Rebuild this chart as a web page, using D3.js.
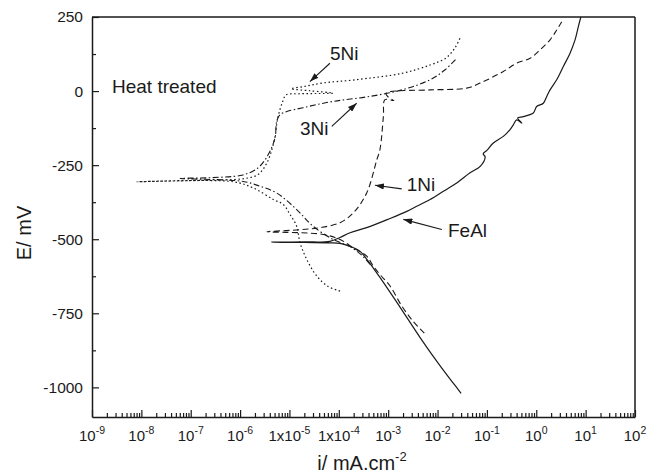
<!DOCTYPE html>
<html>
<head>
<meta charset="utf-8">
<script src="https://cdn.jsdelivr.net/npm/d3@7"></script>
<style>
  body { margin: 0; background: #fff; }
  svg { display: block; font-family: "Liberation Sans", Arial, Helvetica, sans-serif; }
</style>
</head>
<body>
<div id="chart-container"></div>
<script>
// Polarization curves, [i (mA.cm-2), E (mV)]
// each path runs cathodic end -> minimum current -> anodic end
const feAl = [
  [3.0e-2, -1020], [2.0e-2, -982], [1.1e-2, -925], [4.4e-3, -831], [1.75e-3, -730],
  [6.8e-4, -629], [3.7e-4, -568], [2.7e-4, -541], [1.7e-4, -524], [1.06e-4, -514],
  [6.6e-5, -512], [2.0e-5, -511], [4.4e-6, -510],
  [2.0e-5, -509], [6.6e-5, -507], [1.06e-4, -494], [1.69e-4, -478], [3.67e-4, -461],
  [1.09e-3, -430], [2.38e-3, -406], [3.78e-3, -389], [7.05e-3, -366], [1.31e-2, -338],
  [2.45e-2, -310], [4.55e-2, -276], [7.3e-2, -254], [9.2e-2, -222], [8.4e-2, -212],
  [0.10, -200], [0.135, -175], [0.215, -153], [0.294, -130], [0.343, -114],
  [0.40, -97], [0.51, -108], [0.42, -91], [0.55, -86], [0.87, -74], [1.02, -52],
  [1.39, -41], [1.63, -18], [1.90, 4], [2.59, 38], [3.53, 83], [4.83, 128],
  [6.1, 173], [7.1, 217], [8.0, 250]
];

const ni1 = [
  [5.4e-3, -817], [3.2e-3, -777], [1.88e-3, -725], [1.09e-3, -658], [6.8e-4, -619],
  [5.0e-4, -591], [3.67e-4, -557], [1.97e-4, -529], [1.06e-4, -501], [4.85e-5, -484],
  [1.64e-5, -478], [3.5e-6, -475],
  [1.64e-5, -468], [4.16e-5, -461], [1.06e-4, -444], [1.97e-4, -411], [3.67e-4, -344],
  [5.9e-4, -231], [6.8e-4, -198], [8.0e-4, -86], [8.6e-4, -29], [1.3e-3, -32],
  [1.0e-3, -20], [9.0e-4, -8], [1.09e-3, -2], [7.05e-3, 4], [3.9e-2, 10],
  [7.3e-2, 27], [0.215, 66], [0.40, 94], [0.75, 111], [1.19, 139], [1.90, 173],
  [2.59, 206], [3.28, 234]
];

const ni3 = [
  [4.3e-4, -585], [2.95e-4, -555], [1.69e-4, -525], [7.7e-5, -501], [3.0e-5, -456],
  [1.4e-5, -400], [5.5e-6, -344], [2.5e-6, -321], [1.16e-6, -305], [6.1e-8, -295],
  [2.8e-7, -292], [1.0e-6, -285], [1.74e-6, -272], [2.5e-6, -254], [3.7e-6, -215],
  [5.1e-6, -158], [5.5e-6, -103], [6.4e-6, -80], [8.9e-6, -69], [1.88e-5, -56],
  [7.6e-5, -35], [3.9e-4, -19], [1.9e-3, 4], [7.05e-3, 38], [1.42e-2, 72],
  [2.48e-2, 112]
];

const ni5 = [
  [1.06e-4, -675], [6.0e-5, -659], [3.56e-5, -624], [2.24e-5, -568], [1.64e-5, -512],
  [1.4e-5, -456], [1.03e-5, -417], [7.5e-6, -383], [4.7e-6, -366], [1.85e-6, -327],
  [7.2e-7, -306], [8.2e-9, -306],
  [6.1e-8, -303], [3.9e-7, -300], [1.26e-6, -295], [2.3e-6, -282], [3.35e-6, -248],
  [4.4e-6, -198], [5.2e-6, -147], [5.6e-6, -104], [6.4e-6, -63], [7.4e-6, -33],
  [8.5e-6, -13], [1.64e-5, -9], [7.6e-5, -7], [2.6e-5, 1], [1.08e-5, 8],
  [2.07e-5, 16], [4.57e-5, 27], [2.13e-4, 38], [1.91e-3, 60], [7.05e-3, 88],
  [1.49e-2, 112], [2.26e-2, 146], [2.85e-2, 179]
];

// axis ticks
const xDecades = [-9, -8, -7, -6, -5, -4, -3, -2, -1, 0, 1, 2];
const xTickPrefix = ["10", "10", "10", "10", "1x10", "1x10", "10", "10", "10", "10", "10", "10"];
const yTicks = [250, 0, -250, -500, -750, -1000];
const yMinorTicks = [125, -125, -375, -625, -875];

// curve labels and arrows (data coordinates)
const curveLabels = [
  { text: "5Ni", i: 6.6e-5, E: 105 },
  { text: "3Ni", i: 1.64e-5, E: -147 },
  { text: "1Ni", i: 2.38e-3, E: -338 },
  { text: "FeAl", i: 1.63e-2, E: -494 }
];
const arrows = [
  { from: [6.6e-5, 94], to: [2.6e-5, 32] },
  { from: [7.2e-5, -119], to: [2.3e-4, -41] },
  { from: [1.88e-3, -330], to: [5.4e-4, -318] },
  { from: [1.22e-2, -467], to: [2.03e-3, -433] }
];

const margin = { top: 17, right: 26, bottom: 59, left: 92 };
const width = 661 - margin.left - margin.right;
const height = 476 - margin.top - margin.bottom;

const svg = d3.select("#chart-container")
  .append("svg")
  .attr("width", width + margin.left + margin.right)
  .attr("height", height + margin.top + margin.bottom)
  .append("g")
  .attr("transform", `translate(${margin.left}, ${margin.top})`);

const ink = "#1a1a1a";

const x = d3.scaleLog().domain([1e-9, 1e2]).range([0, width]);
const y = d3.scaleLinear().domain([-1100, 250]).range([height, 0]);

// arrow head
svg.append("defs").append("marker")
  .attr("id", "head")
  .attr("markerUnits", "userSpaceOnUse")
  .attr("viewBox", "0 0 10 7")
  .attr("markerWidth", 9)
  .attr("markerHeight", 6.3)
  .attr("refX", 10)
  .attr("refY", 3.5)
  .attr("orient", "auto")
  .append("path")
  .attr("d", "M0,0 L10,3.5 L0,7 Z")
  .attr("fill", ink);

// X axis: decades and minor ticks, all pointing inward
const decadeVals = xDecades.map(p => Math.pow(10, p));
const minorVals = [];
xDecades.slice(0, -1).forEach(p => {
  for (let k = 2; k <= 9; k++) minorVals.push(k * Math.pow(10, p));
});

const xAxis = svg.append("g")
  .attr("transform", `translate(0, ${height})`)
  .call(d3.axisBottom(x).tickValues(decadeVals).tickSize(-7).tickSizeOuter(0).tickFormat(""));
svg.append("g")
  .attr("transform", `translate(0, ${height})`)
  .call(d3.axisBottom(x).tickValues(minorVals).tickSize(-4).tickSizeOuter(0).tickFormat(""))
  .select(".domain").remove();

const xLab = svg.append("g");
xDecades.forEach((p, idx) => {
  const t = xLab.append("text")
    .attr("x", x(Math.pow(10, p)))
    .attr("y", height + 24)
    .attr("text-anchor", "middle")
    .attr("fill", ink)
    .style("font-size", "15px")
    .text(xTickPrefix[idx]);
  t.append("tspan")
    .attr("dy", -7)
    .style("font-size", "10.5px")
    .text(p);
});

// Y axis
const yAxis = svg.append("g")
  .call(d3.axisLeft(y).tickValues(yTicks).tickSize(-7).tickSizeOuter(0).tickPadding(9).tickFormat(d => d));
svg.append("g")
  .call(d3.axisLeft(y).tickValues(yMinorTicks).tickSize(-4).tickSizeOuter(0).tickFormat(""))
  .select(".domain").remove();
yAxis.selectAll("text")
  .attr("fill", ink)
  .style("font-size", "15.5px")
  .style("font-family", "'Liberation Sans', Arial, sans-serif");

// box: top and right edges
svg.append("line")
  .attr("x1", 0).attr("x2", width).attr("y1", 0).attr("y2", 0);
svg.append("line")
  .attr("x1", width).attr("x2", width).attr("y1", 0).attr("y2", height);

svg.selectAll(".domain, line")
  .attr("stroke", ink)
  .attr("stroke-width", 1.5);
svg.selectAll(".tick line").attr("stroke-width", 1.2);

// curves
const line = d3.line()
  .x(d => x(d[0]))
  .y(d => y(d[1]))
  .curve(d3.curveCatmullRom.alpha(0.5));

const series = [
  { data: feAl, dash: null, w: 1.2 },
  { data: ni1, dash: "6,3.5", w: 1.1 },
  { data: ni3, dash: "6,2.5,1.5,2.5", w: 1.1 },
  { data: ni5, dash: "1.5,2.6", w: 1.2 }
];
series.forEach(s => {
  svg.append("path")
    .datum(s.data)
    .attr("d", line)
    .attr("fill", "none")
    .attr("stroke", ink)
    .attr("stroke-width", s.w)
    .attr("stroke-dasharray", s.dash);
});

// arrows and labels
arrows.forEach(a => {
  svg.append("line")
    .attr("x1", x(a.from[0])).attr("y1", y(a.from[1]))
    .attr("x2", x(a.to[0])).attr("y2", y(a.to[1]))
    .attr("stroke", ink)
    .attr("stroke-width", 1.1)
    .attr("marker-end", "url(#head)");
});

curveLabels.forEach(l => {
  svg.append("text")
    .attr("x", x(l.i))
    .attr("y", y(l.E))
    .attr("fill", ink)
    .style("font-size", "19px")
    .text(l.text);
});

svg.append("text")
  .attr("x", x(2.54e-9))
  .attr("y", y(-7))
  .attr("fill", ink)
  .style("font-size", "19px")
  .text("Heat treated");

// axis titles
const xTitle = svg.append("text")
  .attr("x", 270)
  .attr("y", height + 53)
  .attr("text-anchor", "middle")
  .attr("fill", ink)
  .style("font-size", "20px")
  .text("i/ mA.cm");
xTitle.append("tspan")
  .attr("dy", -9)
  .style("font-size", "13px")
  .text("-2");

svg.append("text")
  .attr("transform", `translate(${31 - margin.left}, ${233 - margin.top}) rotate(-90)`)
  .attr("text-anchor", "middle")
  .attr("fill", ink)
  .style("font-size", "20px")
  .text("E/ mV");
</script>
</body>
</html>
